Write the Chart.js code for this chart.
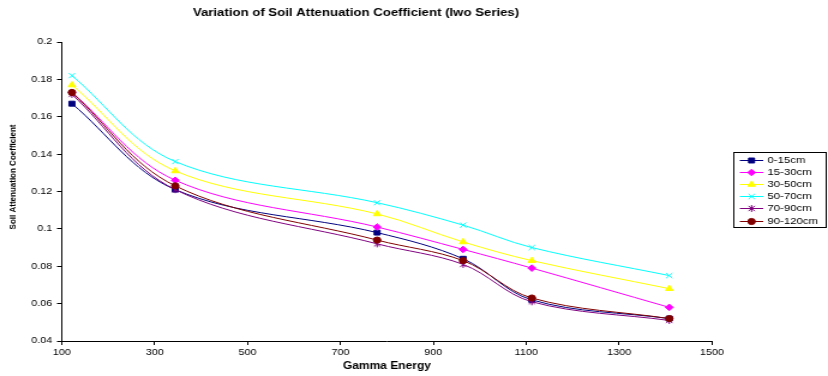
<!DOCTYPE html>
<html>
<head>
<meta charset="utf-8">
<script src="https://cdn.jsdelivr.net/npm/chart.js@4.4.0/dist/chart.umd.min.js"></script>
<style>
  html, body { margin: 0; padding: 0; background: #fff; overflow: hidden; }
  /* the chart is laid out narrow and stretched sideways, like the exported sheet */
  #wrap { position: relative; width: 690px; height: 376px; transform: scaleX(1.2); transform-origin: 0 0; }
</style>
</head>
<body>
<div id="wrap"><canvas id="chart"></canvas></div>
<script>
// gamma line energies (keV)
const energies = [121.8, 344.3, 778.9, 964.1, 1112.1, 1408.0];

const depthLabels = ['0-15cm', '15-30cm', '30-50cm', '50-70cm', '70-90cm', '90-120cm'];

const depth0to15   = [0.167, 0.121, 0.098, 0.084, 0.062, 0.052];
const depth15to30  = [0.173, 0.126, 0.101, 0.089, 0.079, 0.058];
const depth30to50  = [0.177, 0.131, 0.108, 0.093, 0.083, 0.068];
const depth50to70  = [0.182, 0.136, 0.114, 0.102, 0.090, 0.075];
const depth70to90  = [0.172, 0.121, 0.092, 0.081, 0.061, 0.051];
const depth90to120 = [0.173, 0.123, 0.094, 0.083, 0.063, 0.052];

const xTickRange = [100, 1500, 200];   // min, max, step
const yTickRange = [0.04, 0.2, 0.02];

const FONT = "'Liberation Sans', Arial, sans-serif";

// Excel style asterisk marker: an X with a vertical bar through it
function asterisk(color, r) {
  const c = document.createElement('canvas');
  const s = Math.ceil(r * 2 + 2);
  c.width = s; c.height = s;
  const g = c.getContext('2d');
  const m = s / 2, d = r * 0.75;
  g.strokeStyle = color;
  g.lineWidth = 1;
  g.beginPath();
  g.moveTo(m - d, m - d); g.lineTo(m + d, m + d);
  g.moveTo(m + d, m - d); g.lineTo(m - d, m + d);
  g.moveTo(m, m - r); g.lineTo(m, m + r);
  g.stroke();
  return c;
}

const seriesValues = [depth0to15, depth15to30, depth30to50, depth50to70, depth70to90, depth90to120];
const seriesColors = ['#000080', '#FF00FF', '#FFFF00', '#00FFFF', '#800080', '#800000'];
const seriesMarkers = ['rect', 'rectRot', 'triangle', 'crossRot', asterisk('#800080', 3.5), 'circle'];
const seriesRadius = [3.5, 3.3, 3.6, 3.6, 3.5, 3.1];

const datasets = seriesValues.map((vals, i) => ({
  label: depthLabels[i],
  data: vals.map((v, j) => ({ x: energies[j], y: v })),
  borderColor: seriesColors[i],
  backgroundColor: seriesColors[i],
  pointBackgroundColor: seriesColors[i],
  pointBorderColor: seriesColors[i],
  pointStyle: seriesMarkers[i],
  pointRadius: seriesRadius[i],
  pointBorderWidth: 1,
  borderWidth: 1,
  tension: 0.35,
  order: seriesValues.length - i   // later series on top
}));

// legend drawn as a framed box with a line + marker sample per series
const boxedLegend = {
  id: 'boxedLegend',
  afterDraw(chart) {
    const ctx = chart.ctx;
    const left = 611.5, top = 152.5, width = 77, height = 75;
    ctx.save();
    ctx.strokeStyle = '#000';
    ctx.lineWidth = 1;
    ctx.strokeRect(left, top, width, height);
    ctx.font = '9.5px ' + FONT;
    ctx.textBaseline = 'middle';
    ctx.textAlign = 'left';
    chart.data.datasets.forEach((ds, i) => {
      const y = Math.round(top + 7 + i * 12.2) + 0.5;
      ctx.strokeStyle = ds.borderColor;
      ctx.fillStyle = ds.pointBackgroundColor;
      ctx.lineWidth = 1;
      ctx.beginPath();
      ctx.moveTo(616.5, y);
      ctx.lineTo(636, y);
      ctx.stroke();
      Chart.helpers.drawPoint(ctx, {
        pointStyle: ds.pointStyle,
        radius: ds.pointRadius,
        rotation: 0,
        borderWidth: 1
      }, 626.3, y);
      ctx.fillStyle = '#000';
      ctx.fillText(ds.label, 639.5, y);
    });
    ctx.restore();
  }
};

// y axis caption, sitting a little above the middle of the axis
const yCaption = {
  id: 'yCaption',
  afterDraw(chart) {
    const ctx = chart.ctx;
    ctx.save();
    ctx.translate(11, 177);
    ctx.rotate(-Math.PI / 2);
    ctx.font = 'bold 8px ' + FONT;
    ctx.fillStyle = '#000';
    ctx.textAlign = 'center';
    ctx.textBaseline = 'middle';
    ctx.fillText('Soil Attenuation Coefficient', 0, 0);
    ctx.restore();
  }
};

new Chart(document.getElementById('chart'), {
  type: 'line',
  data: { datasets },
  plugins: [boxedLegend, yCaption],
  options: {
    responsive: true,
    maintainAspectRatio: false,
    animation: false,
    layout: { padding: { left: 0, right: 96.7, top: 0, bottom: 0 } },
    plugins: {
      legend: { display: false },
      tooltip: { enabled: false },
      title: {
        display: true,
        text: 'Variation of Soil Attenuation Coefficient (Iwo Series)',
        color: '#000',
        font: { family: FONT, size: 11, weight: 'bold' },
        padding: { top: 6.4, bottom: 22.4 }
      }
    },
    scales: {
      x: {
        type: 'linear',
        min: xTickRange[0],
        max: xTickRange[1],
        afterFit(scale) { scale.height = 35; },
        grid: { drawOnChartArea: false, drawTicks: true, tickLength: 4, color: '#000' },
        border: { display: true, color: '#000', width: 1 },
        ticks: {
          stepSize: xTickRange[2],
          color: '#000',
          padding: 2,
          maxRotation: 0,
          font: { family: FONT, size: 9 },
          callback: v => String(v)
        },
        title: {
          display: true,
          text: 'Gamma Energy',
          color: '#000',
          font: { family: FONT, size: 10, weight: 'bold' },
          padding: { top: 0, bottom: 4 }
        }
      },
      y: {
        min: yTickRange[0],
        max: yTickRange[1],
        afterFit(scale) { scale.width = 51.5; },
        grid: { drawOnChartArea: false, drawTicks: true, tickLength: 4, color: '#000' },
        border: { display: true, color: '#000', width: 1 },
        ticks: {
          stepSize: yTickRange[2],
          color: '#000',
          padding: 4,
          font: { family: FONT, size: 9 },
          callback: v => String(Number(v.toFixed(2)))
        },
        title: { display: false }
      }
    }
  }
});
</script>
</body>
</html>
